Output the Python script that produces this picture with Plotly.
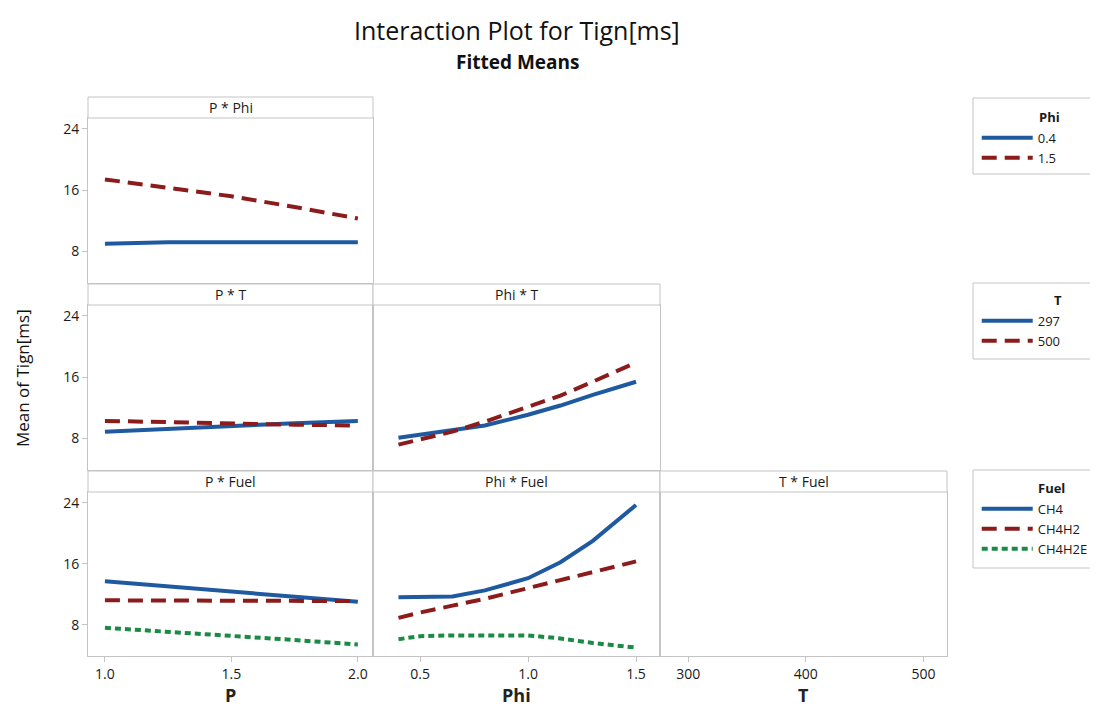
import plotly.graph_objects as go

# factor levels along x
p_vals = [1.0, 1.25, 1.5, 1.75, 2.0]
phi_vals = [0.4, 0.5, 0.65, 0.8, 1.0, 1.15, 1.3, 1.5]

# P * Phi
pphi_04 = [9.0, 9.2, 9.2, 9.2, 9.2]
pphi_15 = [17.4, 16.3, 15.2, 13.8, 12.3]

# P * T
pt_297 = [8.9, 9.3, 9.6, 10.0, 10.3]
pt_500 = [10.3, 10.1, 10.0, 9.8, 9.7]

# Phi * T
phit_297 = [8.1, 8.5, 9.0, 9.7, 11.1, 12.3, 13.7, 15.4]
phit_500 = [7.2, 7.9, 8.9, 10.2, 12.1, 13.6, 15.4, 17.9]

# P * Fuel
pf_ch4 = [13.7, 13.0, 12.4, 11.7, 11.0]
pf_ch4h2 = [11.2, 11.2, 11.1, 11.1, 11.1]
pf_ch4h2e = [7.6, 7.1, 6.6, 6.0, 5.4]

# Phi * Fuel
phif_ch4 = [11.6, 11.6, 11.7, 12.5, 14.1, 16.2, 19.0, 23.7]
phif_ch4h2 = [8.9, 9.6, 10.5, 11.4, 12.8, 13.8, 14.9, 16.3]
phif_ch4h2e = [6.1, 6.5, 6.6, 6.6, 6.6, 6.2, 5.6, 5.0]

BLUE = "#1f5aa0"
RED = "#8c1c1c"
GREEN = "#1a8a44"
GRID = "#c4c4c4"
# page body has an 8px margin, so the figure is drawn 8px in from the corner
OFF = 8
W, H = 1098 - OFF, 708 - OFF

def px(x):
    return (x - OFF) / W

def py(y):
    return 1 - (y - OFF) / H

cols = [(88, 373), (373, 660), (660, 947)]
rows = [(118, 283), (305, 470), (492, 656)]
strips = [(97, 118), (284, 305), (471, 492)]
xranges = [[0.933, 2.06], [0.282, 1.611], [276, 520]]
yrange = [3.9, 25.4]

# panels: (row, col, axis index, title)
panels = [(0, 0, 1, "P * Phi"), (1, 0, 2, "P * T"), (1, 1, 3, "Phi * T"),
          (2, 0, 4, "P * Fuel"), (2, 1, 5, "Phi * Fuel"), (2, 2, 6, "T * Fuel")]

fig = go.Figure()

def line(x, y, color, dash, name, n, legend, show):
    sfx = "" if n == 1 else str(n)
    fig.add_trace(go.Scatter(
        x=x, y=y, mode="lines", name=name,
        line=dict(color=color, width=4, dash=dash),
        xaxis="x" + sfx, yaxis="y" + sfx,
        legend=legend, showlegend=show))

DASH = "15px,8px"
DOT = "6px,4px"

line(p_vals, pphi_04, BLUE, "solid", "0.4", 1, "legend", True)
line(p_vals, pphi_15, RED, DASH, "1.5", 1, "legend", True)
line(p_vals, pt_297, BLUE, "solid", "297", 2, "legend2", True)
line(p_vals, pt_500, RED, DASH, "500", 2, "legend2", True)
line(phi_vals, phit_297, BLUE, "solid", "297", 3, "legend2", False)
line(phi_vals, phit_500, RED, DASH, "500", 3, "legend2", False)
line(p_vals, pf_ch4, BLUE, "solid", "CH4", 4, "legend3", True)
line(p_vals, pf_ch4h2, RED, DASH, "CH4H2", 4, "legend3", True)
line(p_vals, pf_ch4h2e, GREEN, DOT, "CH4H2E", 4, "legend3", True)
line(phi_vals, phif_ch4, BLUE, "solid", "CH4", 5, "legend3", False)
line(phi_vals, phif_ch4h2, RED, DASH, "CH4H2", 5, "legend3", False)
line(phi_vals, phif_ch4h2e, GREEN, DOT, "CH4H2E", 5, "legend3", False)
fig.add_trace(go.Scatter(x=[], y=[], xaxis="x6", yaxis="y6", showlegend=False))

tickfont = dict(family="Open Sans", size=14, color="#1a1a1a")
shapes, annotations = [], []
for r, c, n, title in panels:
    sfx = "" if n == 1 else str(n)
    x0, x1 = cols[c]
    y0, y1 = rows[r]
    fig.update_layout({
        "xaxis" + sfx: dict(
            domain=[px(x0), px(x1)], range=xranges[c], anchor="y" + sfx,
            showgrid=False, zeroline=False, showline=True, mirror=True,
            linecolor=GRID, linewidth=1,
            ticks="outside" if r == 2 else "", ticklen=5, tickcolor=GRID,
            showticklabels=(r == 2), tickfont=tickfont,
            tickvals=[[1.0, 1.5, 2.0], [0.5, 1.0, 1.5], [300, 400, 500]][c],
            ticktext=[["1.0", "1.5", "2.0"], ["0.5", "1.0", "1.5"], ["300", "400", "500"]][c]),
        "yaxis" + sfx: dict(
            domain=[py(y1), py(y0)], range=yrange, anchor="x" + sfx,
            showgrid=False, zeroline=False, showline=True, mirror=True,
            linecolor=GRID, linewidth=1,
            ticks="outside" if c == 0 else "", ticklen=5, tickcolor=GRID,
            showticklabels=(c == 0), tickfont=tickfont,
            tickvals=[8, 16, 24]),
    })
    s0, s1 = strips[r]
    shapes.append(dict(type="rect", xref="paper", yref="paper",
                       x0=px(x0), x1=px(x1), y0=py(s1), y1=py(s0),
                       line=dict(color=GRID, width=1), fillcolor="white"))
    annotations.append(dict(text=title, xref="paper", yref="paper",
                            x=px((x0 + x1) / 2), y=py((s0 + s1) / 2),
                            showarrow=False, xanchor="center", yanchor="middle",
                            font=dict(family="Open Sans", size=14, color="#1a1a1a")))

# legend boxes, open on the right: they run off the page edge in the original
for top, bottom in [(98, 174), (283, 359), (470, 568)]:
    xa, xb, ya, yb = px(973), px(1120), py(top), py(bottom)
    shapes.append(dict(type="path", xref="paper", yref="paper",
                       path=f"M {xb},{ya} L {xa},{ya} L {xa},{yb} L {xb},{yb}",
                       line=dict(color=GRID, width=1)))

# legend headings placed by hand (Minitab puts them over the labels)
for text, x, y in [("Phi", 1049, 117), ("T", 1058, 300), ("Fuel", 1051, 488)]:
    annotations.append(dict(text="<b>" + text + "</b>", xref="paper", yref="paper",
                            x=px(x), y=py(y), showarrow=False,
                            xanchor="center", yanchor="middle",
                            font=dict(family="Open Sans", size=13, color="#1a1a1a")))

annotations += [
    dict(text="Interaction Plot for Tign[ms]", xref="paper", yref="paper",
         x=px(517), y=py(30), showarrow=False, xanchor="center", yanchor="middle",
         font=dict(family="Open Sans", size=25, color="#111")),
    dict(text="<b>Fitted Means</b>", xref="paper", yref="paper",
         x=px(517), y=py(62), showarrow=False, xanchor="center", yanchor="middle",
         font=dict(family="Open Sans", size=19, color="#111")),
    dict(text="Mean of Tign[ms]", xref="paper", yref="paper", textangle=-90,
         x=px(22), y=py(378), showarrow=False, xanchor="center", yanchor="middle",
         font=dict(family="Open Sans", size=17, color="#111")),
]
for (x0, x1), t in zip(cols, ["P", "Phi", "T"]):
    annotations.append(dict(text="<b>" + t + "</b>", xref="paper", yref="paper",
                            x=px((x0 + x1) / 2), y=py(695), showarrow=False,
                            xanchor="center", yanchor="middle",
                            font=dict(family="Open Sans", size=18, color="#222")))

def leg(top):
    # invisible title keeps the spacing of a titled legend
    return dict(x=px(973), y=py(top), xanchor="left", yanchor="top",
                borderwidth=0, bgcolor="rgba(0,0,0,0)",
                title=dict(text="<b>.</b>", side="top left",
                           font=dict(family="Open Sans", size=13, color="rgba(0,0,0,0)")),
                font=dict(family="Open Sans", size=13, color="#1a1a1a"),
                itemwidth=51, tracegroupgap=2)

fig.update_layout(
    width=W, height=H, margin=dict(l=0, r=0, t=0, b=0),
    paper_bgcolor="white", plot_bgcolor="white",
    shapes=shapes, annotations=annotations,
    legend=leg(106), legend2=leg(289), legend3=leg(477),
)

fig.write_html("out.html")
